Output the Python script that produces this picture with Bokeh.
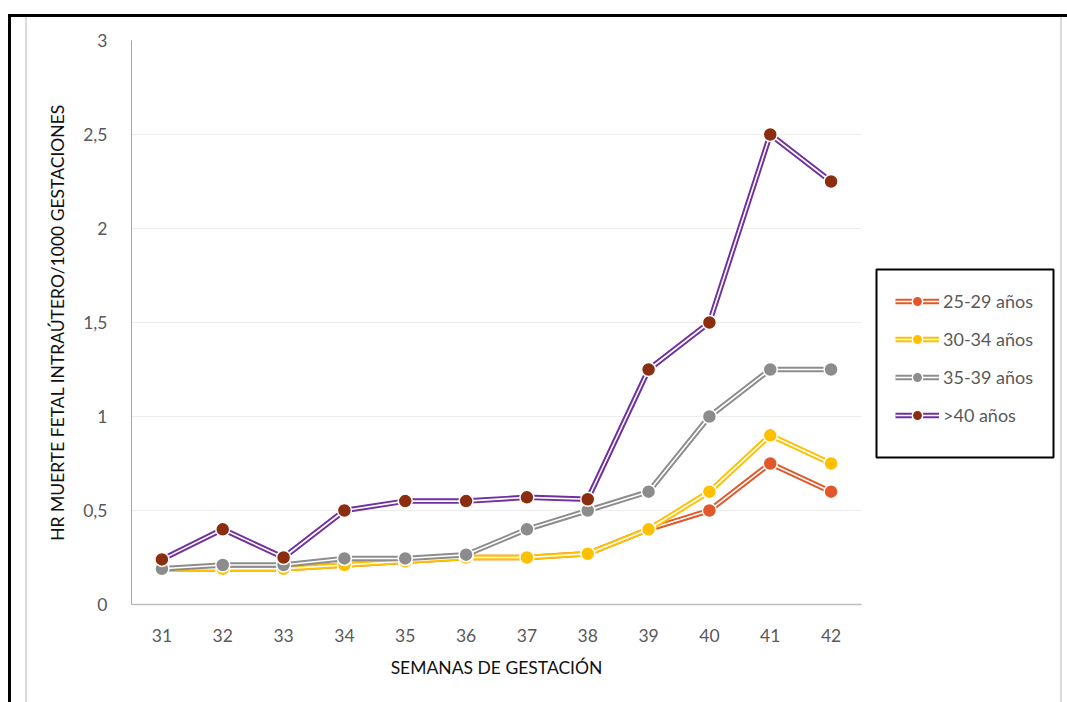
from bokeh.plotting import figure
from bokeh.layouts import row, column
from bokeh.models import (ColumnDataSource, FixedTicker, Legend, LegendItem,
                          InlineStyleSheet, Spacer)
from bokeh.embed import file_html
from bokeh.resources import INLINE

# Semanas de gestación (categorías del eje X)
weeks = [31, 32, 33, 34, 35, 36, 37, 38, 39, 40, 41, 42]

# HR de muerte fetal intraútero por 1000 gestaciones, por grupo de edad
hr_25_29 = [0.19, 0.19, 0.19, 0.21, 0.23, 0.25, 0.25, 0.27, 0.40, 0.50, 0.75, 0.60]
hr_30_34 = [0.19, 0.19, 0.19, 0.21, 0.23, 0.25, 0.25, 0.27, 0.40, 0.60, 0.90, 0.75]
hr_35_39 = [0.19, 0.21, 0.21, 0.245, 0.245, 0.265, 0.40, 0.50, 0.60, 1.00, 1.25, 1.25]
hr_40 = [0.24, 0.40, 0.25, 0.50, 0.55, 0.55, 0.57, 0.56, 1.25, 1.50, 2.50, 2.25]

series_labels = ["25-29 años", "30-34 años", "35-39 años", ">40 años"]
y_ticks = [0, 0.5, 1, 1.5, 2, 2.5, 3]
y_tick_labels = ["0", "0,5", "1", "1,5", "2", "2,5", "3"]

FONT = "Lato"
TXT = "#595959"

# ---- gráfico principal ----
p = figure(width=874, height=702, output_backend="svg", toolbar_location=None,
           x_range=(30.5, 42.5), y_range=(0, 3),
           min_border_left=131, min_border_right=13,
           min_border_top=40, min_border_bottom=98)
p.outline_line_color = None
p.background_fill_color = "white"
p.border_fill_color = "white"

p.xaxis.ticker = FixedTicker(ticks=weeks)
p.yaxis.ticker = FixedTicker(ticks=y_ticks)
p.yaxis.major_label_overrides = {t: s for t, s in zip(y_ticks, y_tick_labels)}
for ax in (p.xaxis[0], p.yaxis[0]):
    ax.major_tick_line_color = None
    ax.minor_tick_line_color = None
    ax.major_label_text_font = FONT
    ax.major_label_text_font_size = "17.5px"
    ax.major_label_text_color = TXT
    ax.axis_label_text_font = FONT
    ax.axis_label_text_font_size = "17.5px"
    ax.axis_label_text_font_style = "normal"
    ax.axis_label_text_color = "#111111"
    ax.major_label_standoff = 18
    ax.axis_label_standoff = 12
p.xaxis.axis_line_color = "#BFBFBF"
p.xaxis.axis_line_width = 1.5
p.yaxis.axis_line_color = "#A6A6A6"
p.yaxis.axis_line_width = 1
p.xaxis.axis_label = "SEMANAS DE GESTACIÓN"
p.yaxis.axis_label = "HR MUERTE FETAL INTRAÚTERO/1000 GESTACIONES"

p.xgrid.grid_line_color = None
p.ygrid.grid_line_color = "#EDEDED"
p.ygrid.grid_line_width = 1

styles = [
    (hr_25_29, "#E2582A", "#E2582A"),
    (hr_30_34, "#FFC000", "#FFC000"),
    (hr_35_39, "#8C8C8C", "#8C8C8C"),
    (hr_40, "#7030A0", "#8B2E10"),
]


def double_line(fig, src, line_col, mark_col):
    """Línea doble (color con hueco blanco) y marcadores circulares."""
    r_outer = fig.line("x", "y", source=src, line_color=line_col, line_width=5.5)
    r_inner = fig.line("x", "y", source=src, line_color="white", line_width=1.6)
    r_mark = fig.scatter("x", "y", source=src, size=14, fill_color=mark_col,
                         line_color="white", line_width=1.5)
    return [r_outer, r_inner, r_mark]


sources = [ColumnDataSource(dict(x=weeks, y=vals)) for vals, _, _ in styles]
for src, (_, line_col, mark_col) in zip(sources, styles):
    double_line(p, src, line_col, mark_col)

# ---- leyenda en un panel aparte, con su propio marco ----
lfig = figure(width=181, height=192, output_backend="svg", toolbar_location=None,
              x_range=(0, 1), y_range=(0, 1), x_axis_type=None, y_axis_type=None,
              min_border=2)
lfig.outline_line_color = "black"
lfig.outline_line_width = 2
lfig.background_fill_color = "white"
lfig.border_fill_color = "white"

items = []
for src, (_, line_col, mark_col), label in zip(sources, styles, series_labels):
    rs = double_line(lfig, src, line_col, mark_col)
    items.append(LegendItem(label=label, renderers=rs))

legend = Legend(items=items, location="top_left",
                border_line_color=None, background_fill_alpha=0,
                label_text_font=FONT, label_text_font_size="18px",
                label_text_color=TXT, glyph_width=44, glyph_height=26,
                label_height=20, label_standoff=4, spacing=12, padding=0,
                margin=19)
lfig.add_layout(legend, "center")

layout = row(p, column(Spacer(width=181, height=267), lfig), Spacer(width=12, height=702))

# marco de página alrededor del gráfico
layout.stylesheets = [InlineStyleSheet(css="""
:host::before {
  content: ""; position: absolute; left: 8px; top: 14px; right: 0; bottom: 0;
  border-top: 3px solid #000; border-left: 3px solid #000;
  z-index: 100; pointer-events: none;
}
:host::after {
  content: ""; position: absolute; left: 25px; top: 17px; right: 5px; bottom: 0;
  border-left: 2px solid #DADADA; border-right: 2px solid #DADADA;
  z-index: 99; pointer-events: none;
}
""")]

open("out.html", "w").write(file_html(layout, INLINE))
